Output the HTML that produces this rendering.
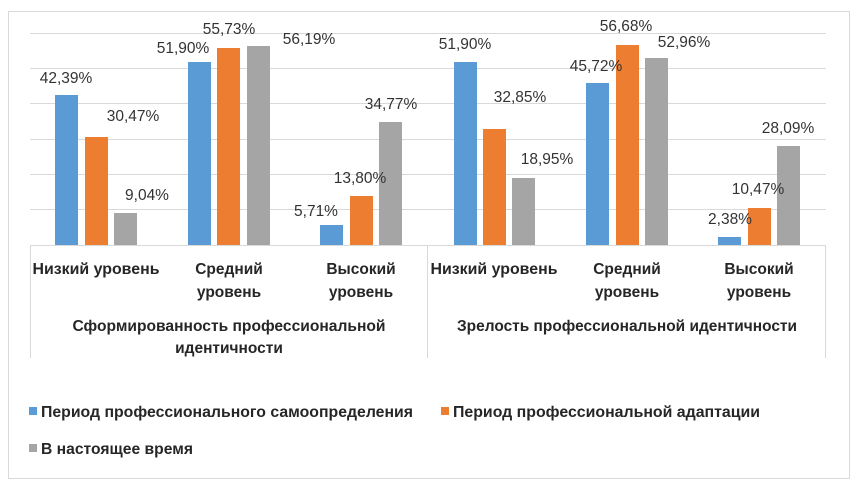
<!DOCTYPE html>
<html><head><meta charset="utf-8"><style>
body{margin:0;background:#fff;}
svg text{font-family:"Liberation Sans","DejaVu Sans",sans-serif;}
</style></head><body>
<svg width="858" height="489" xmlns="http://www.w3.org/2000/svg">
<rect x="8.5" y="11.5" width="841" height="467" fill="#fff" stroke="#d9d9d9"/>
<g stroke="#d9d9d9" stroke-width="1">
<line x1="30" y1="33.5" x2="826" y2="33.5"/>
<line x1="30" y1="68.5" x2="826" y2="68.5"/>
<line x1="30" y1="103.5" x2="826" y2="103.5"/>
<line x1="30" y1="139.5" x2="826" y2="139.5"/>
<line x1="30" y1="174.5" x2="826" y2="174.5"/>
<line x1="30" y1="209.5" x2="826" y2="209.5"/>
<line x1="30" y1="245.5" x2="826" y2="245.5"/>
<line x1="30.5" y1="245" x2="30.5" y2="358"/>
<line x1="427.5" y1="245" x2="427.5" y2="358"/>
<line x1="825.5" y1="245" x2="825.5" y2="358"/>
</g>
<g>
<rect x="55" y="95" width="23" height="150" fill="#5b9bd5"/>
<rect x="85" y="137" width="23" height="108" fill="#ed7d31"/>
<rect x="114" y="213" width="23" height="32" fill="#a5a5a5"/>
<rect x="188" y="62" width="23" height="183" fill="#5b9bd5"/>
<rect x="217" y="48" width="23" height="197" fill="#ed7d31"/>
<rect x="247" y="46" width="23" height="199" fill="#a5a5a5"/>
<rect x="320" y="225" width="23" height="20" fill="#5b9bd5"/>
<rect x="350" y="196" width="23" height="49" fill="#ed7d31"/>
<rect x="379" y="122" width="23" height="123" fill="#a5a5a5"/>
<rect x="454" y="62" width="23" height="183" fill="#5b9bd5"/>
<rect x="483" y="129" width="23" height="116" fill="#ed7d31"/>
<rect x="512" y="178" width="23" height="67" fill="#a5a5a5"/>
<rect x="586" y="83" width="23" height="162" fill="#5b9bd5"/>
<rect x="616" y="45" width="23" height="200" fill="#ed7d31"/>
<rect x="645" y="58" width="23" height="187" fill="#a5a5a5"/>
<rect x="718" y="237" width="23" height="8" fill="#5b9bd5"/>
<rect x="748" y="208" width="23" height="37" fill="#ed7d31"/>
<rect x="777" y="146" width="23" height="99" fill="#a5a5a5"/>
</g>
<g font-size="15.5" fill="#333" text-anchor="middle">
<text x="66" y="83">42,39%</text>
<text x="133" y="121">30,47%</text>
<text x="147" y="200">9,04%</text>
<text x="183" y="53">51,90%</text>
<text x="229" y="34">55,73%</text>
<text x="309" y="44">56,19%</text>
<text x="316" y="216">5,71%</text>
<text x="360" y="183">13,80%</text>
<text x="391" y="109">34,77%</text>
<text x="465" y="49">51,90%</text>
<text x="520" y="102">32,85%</text>
<text x="547" y="164">18,95%</text>
<text x="596" y="71">45,72%</text>
<text x="626" y="31">56,68%</text>
<text x="684" y="47">52,96%</text>
<text x="730" y="224">2,38%</text>
<text x="758" y="194">10,47%</text>
<text x="788" y="133">28,09%</text>
</g>
<g font-size="15.5" fill="#262626" text-anchor="middle" style="font-weight:600">
<text x="96" y="274" textLength="127" lengthAdjust="spacingAndGlyphs">Низкий уровень</text>
<text x="229" y="274">Средний</text>
<text x="229" y="297">уровень</text>
<text x="361" y="274">Высокий</text>
<text x="361" y="297">уровень</text>
<text x="494" y="274" textLength="127" lengthAdjust="spacingAndGlyphs">Низкий уровень</text>
<text x="627" y="274">Средний</text>
<text x="627" y="297">уровень</text>
<text x="759" y="274">Высокий</text>
<text x="759" y="297">уровень</text>
<text x="229" y="331" textLength="313" lengthAdjust="spacingAndGlyphs">Сформированность профессиональной</text>
<text x="229" y="353">идентичности</text>
<text x="627" y="331" textLength="340" lengthAdjust="spacingAndGlyphs">Зрелость профессиональной идентичности</text>
</g>
<rect x="29" y="407" width="8" height="8" fill="#5b9bd5"/>
<rect x="441" y="407" width="8" height="8" fill="#ed7d31"/>
<rect x="29" y="444" width="8" height="8" fill="#a5a5a5"/>
<g font-size="15.5" fill="#262626" style="font-weight:600">
<text x="41" y="417" textLength="372" lengthAdjust="spacingAndGlyphs">Период профессионального самоопределения</text>
<text x="453" y="417" textLength="307" lengthAdjust="spacingAndGlyphs">Период профессиональной адаптации</text>
<text x="41" y="454" textLength="152" lengthAdjust="spacingAndGlyphs">В настоящее время</text>
</g>
</svg>
</body></html>
